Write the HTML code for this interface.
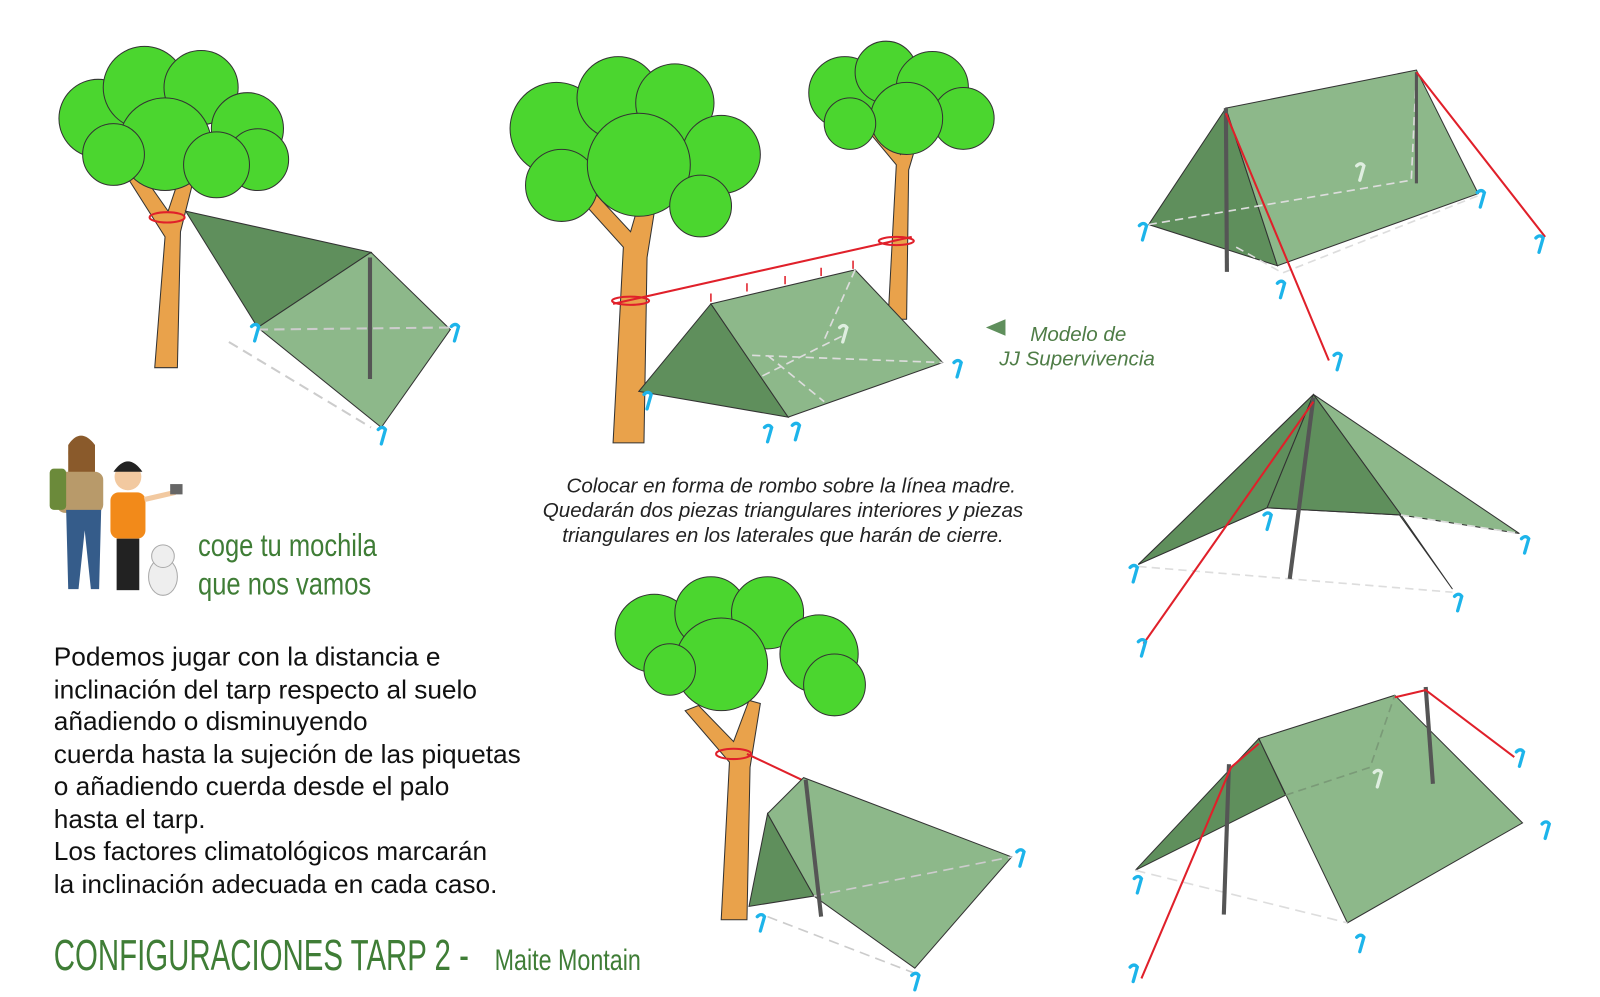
<!DOCTYPE html>
<html><head><meta charset="utf-8"><style>
html,body{margin:0;padding:0;background:#fff;}
svg{display:block;}
.n{font-family:"Liberation Sans",sans-serif;}
</style></head><body>
<svg width="1600" height="997" viewBox="0 0 1553 968" xmlns="http://www.w3.org/2000/svg">
<defs>
<g id="hk"><path d="M-3,-5 q4,-4 7,0 l-4,14" fill="none" stroke="#1db4ea" stroke-width="3.2" stroke-linecap="round"/></g>
<g id="hkw"><path d="M-3,-5 q4,-4 7,0 l-4,14" fill="none" stroke="#dfeee0" stroke-width="3.2" stroke-linecap="round"/></g>
</defs>
<rect width="1553" height="968" fill="#fff"/>

<g stroke="#333" stroke-width="1">
<path d="M150,357 L160,230 L122,170 L135,165 L163,205 L178,160 L190,165 L175,225 L172,357 Z" fill="#e9a24b"/>
<g fill="#4bd62f">
<circle cx="95" cy="115" r="38"/><circle cx="140" cy="85" r="40"/><circle cx="195" cy="85" r="36"/><circle cx="240" cy="125" r="35"/><circle cx="250" cy="155" r="30"/><circle cx="160" cy="140" r="45"/><circle cx="110" cy="150" r="30"/><circle cx="210" cy="160" r="32"/>
</g></g>
<ellipse cx="162" cy="211" rx="17" ry="5" fill="none" stroke="#e0202a" stroke-width="2"/>
<polygon points="180,205 360,245 250,318" fill="#5f8f5c" stroke="#333" stroke-width="1"/>
<polygon points="360,245 437,320 370,415 250,318" fill="#8db88a" stroke="#333" stroke-width="1"/>
<path d="M250,320 L437,318 M222,332 L360,415" stroke="#ccc" stroke-width="2" stroke-dasharray="10,6" fill="none"/>
<line x1="359" y1="250" x2="359" y2="368" stroke="#555" stroke-width="4"/>
<use href="#hk" x="247" y="322"/><use href="#hk" x="441" y="322"/><use href="#hk" x="370" y="422"/>

<g stroke="#333" stroke-width="1">
<path d="M595,430 L605,240 L560,190 L575,185 L612,225 L628,170 L640,175 L628,250 L625,430 Z" fill="#e9a24b"/>
<g fill="#4bd62f">
<circle cx="540" cy="125" r="45"/><circle cx="600" cy="95" r="40"/><circle cx="655" cy="100" r="38"/><circle cx="700" cy="150" r="38"/><circle cx="545" cy="180" r="35"/><circle cx="620" cy="160" r="50"/><circle cx="680" cy="200" r="30"/>
</g>
<path d="M862,310 L870,160 L845,130 L855,125 L874,150 L885,125 L893,128 L882,165 L880,310 Z" fill="#e9a24b"/>
<g fill="#4bd62f">
<circle cx="820" cy="90" r="35"/><circle cx="860" cy="70" r="30"/><circle cx="905" cy="85" r="35"/><circle cx="935" cy="115" r="30"/><circle cx="880" cy="115" r="35"/><circle cx="825" cy="120" r="25"/>
</g></g>
<path d="M595,295 L885,230" stroke="#e0202a" stroke-width="2" fill="none"/>
<ellipse cx="612" cy="292" rx="18" ry="4" fill="none" stroke="#e0202a" stroke-width="2"/>
<ellipse cx="870" cy="234" rx="17" ry="4" fill="none" stroke="#e0202a" stroke-width="2"/>
<polygon points="620,380 690,295 765,405" fill="#5f8f5c" stroke="#333" stroke-width="1"/>
<polygon points="690,295 830,262 915,352 765,405" fill="#8db88a" stroke="#333" stroke-width="1"/>
<path d="M730,345 L915,352 M740,365 L820,325 M745,345 L800,390 M830,262 L800,330" stroke="#ddd" stroke-width="1.6" stroke-dasharray="8,5" fill="none"/>
<use href="#hkw" x="818" y="323"/>
<use href="#hk" x="628" y="388"/><use href="#hk" x="745" y="420"/><use href="#hk" x="772" y="418"/><use href="#hk" x="929" y="357"/>
<path d="M690,285 v8 M725,275 v8 M762,268 v8 M797,260 v8 M828,253 v8" stroke="#e0202a" stroke-width="1.5"/>

<text x="768" y="478" text-anchor="middle" font-family="Liberation Sans,sans-serif" font-style="italic" font-size="20" fill="#222">Colocar en forma de rombo sobre la línea madre.</text>
<text x="760" y="502" text-anchor="middle" font-family="Liberation Sans,sans-serif" font-style="italic" font-size="20" fill="#222">Quedarán dos piezas triangulares interiores y piezas</text>
<text x="760" y="526" text-anchor="middle" font-family="Liberation Sans,sans-serif" font-style="italic" font-size="20" fill="#222">triangulares en los laterales que harán de cierre.</text>

<polygon points="957,318 976,310 976,326" fill="#5f8f5c"/>
<text x="1000" y="331" font-family="Liberation Sans,sans-serif" font-style="italic" font-size="20" fill="#4f7d47">Modelo de</text>
<text x="970" y="355" font-family="Liberation Sans,sans-serif" font-style="italic" font-size="20" fill="#4f7d47">JJ Supervivencia</text>

<polygon points="1115,218 1190,105 1240,258" fill="#5f8f5c" stroke="#333"/>
<polygon points="1190,105 1375,68 1435,188 1240,258" fill="#8db88a" stroke="#333"/>
<path d="M1115,218 L1370,175 L1375,70 M1200,240 L1245,265 L1435,190" stroke="#ddd" stroke-width="1.6" stroke-dasharray="8,5" fill="none"/>
<line x1="1190" y1="105" x2="1191" y2="264" stroke="#555" stroke-width="4"/>
<line x1="1375" y1="70" x2="1375" y2="178" stroke="#555" stroke-width="3"/>
<path d="M1190,110 L1290,350 M1375,70 L1500,230" stroke="#e0202a" stroke-width="2" fill="none"/>
<use href="#hk" x="1109" y="224"/><use href="#hk" x="1243" y="280"/><use href="#hk" x="1437" y="192"/><use href="#hk" x="1494" y="236"/><use href="#hk" x="1298" y="350"/><use href="#hkw" x="1320" y="166"/>

<polygon points="1105,548 1275,383 1410,572 1360,500 1230,493" fill="#8db88a" stroke="#333"/>
<polygon points="1105,548 1275,383 1230,493" fill="#5f8f5c" stroke="#333"/>
<polygon points="1275,383 1475,518 1360,500" fill="#8db88a" stroke="#333"/>
<polygon points="1275,383 1360,500 1230,493" fill="#5f8f5c" stroke="#333"/>
<path d="M1105,550 L1410,575 M1360,500 L1475,518" stroke="#ddd" stroke-width="1.6" stroke-dasharray="8,5" fill="none"/>
<line x1="1275" y1="386" x2="1252" y2="562" stroke="#555" stroke-width="4"/>
<path d="M1275,390 L1110,625" stroke="#e0202a" stroke-width="2"/>
<use href="#hk" x="1100" y="556"/><use href="#hk" x="1230" y="505"/><use href="#hk" x="1480" y="528"/><use href="#hk" x="1415" y="584"/><use href="#hk" x="1108" y="628"/>

<polygon points="1102,845 1222,717 1248,772" fill="#5f8f5c" stroke="#333"/>
<polygon points="1222,717 1354,675 1478,799 1308,896" fill="#8db88a" stroke="#333"/>
<path d="M1102,845 L1308,896" stroke="#ddd" stroke-width="1.6" stroke-dasharray="10,6" fill="none"/>
<path d="M1248,772 L1330,745 L1354,675" stroke="#7a9a77" stroke-width="1.6" stroke-dasharray="8,5" fill="none"/>
<line x1="1193" y1="742" x2="1188" y2="888" stroke="#555" stroke-width="4"/>
<line x1="1384" y1="667" x2="1391" y2="761" stroke="#555" stroke-width="4"/>
<path d="M1195,745 L1222,722 M1195,745 L1108,950 M1354,677 L1384,670 L1470,735" stroke="#e0202a" stroke-width="2" fill="none"/>
<use href="#hk" x="1104" y="858"/><use href="#hk" x="1500" y="805"/><use href="#hk" x="1320" y="915"/><use href="#hk" x="1475" y="735"/><use href="#hk" x="1100" y="944"/><use href="#hkw" x="1337" y="755"/>

<g stroke="#333" stroke-width="1">
<path d="M700,893 L708,740 L665,690 L678,685 L712,720 L727,680 L738,683 L728,745 L725,893 Z" fill="#e9a24b"/>
<g fill="#4bd62f">
<circle cx="635" cy="615" r="38"/><circle cx="690" cy="595" r="35"/><circle cx="745" cy="595" r="35"/><circle cx="795" cy="635" r="38"/><circle cx="810" cy="665" r="30"/><circle cx="700" cy="645" r="45"/><circle cx="650" cy="650" r="25"/>
</g></g>
<ellipse cx="712" cy="732" rx="17" ry="5" fill="none" stroke="#e0202a" stroke-width="2"/>
<path d="M725,732 L780,758" stroke="#e0202a" stroke-width="2"/>
<polygon points="727,880 745,790 790,870" fill="#5f8f5c" stroke="#333"/>
<polygon points="745,790 780,755 982,832 888,940 790,870" fill="#8db88a" stroke="#333"/>
<path d="M745,890 L888,945 M790,870 L982,832" stroke="#ccc" stroke-width="1.6" stroke-dasharray="10,6" fill="none"/>
<line x1="782" y1="757" x2="797" y2="890" stroke="#555" stroke-width="4"/>
<use href="#hk" x="738" y="895"/><use href="#hk" x="990" y="832"/><use href="#hk" x="888" y="952"/>

<g>
<circle cx="78" cy="440" r="12" fill="#f2c9a0"/><path d="M66,432 q12,-18 26,0 l0,28 q-14,5 -26,0z" fill="#8a5a2b"/>
<rect x="55" y="458" width="45" height="40" rx="8" fill="#b89a6a"/>
<rect x="48" y="455" width="16" height="40" rx="4" fill="#6b8a3a"/>
<path d="M64,495 L98,495 L96,572 L88,572 L82,515 L76,572 L66,572 Z" fill="#355c8a"/>
<circle cx="124" cy="463" r="13" fill="#f2c9a0"/><path d="M110,458 q14,-20 28,0z" fill="#222"/>
<rect x="107" y="478" width="34" height="45" rx="8" fill="#f28a1a"/>
<rect x="113" y="523" width="22" height="50" fill="#222"/>
<path d="M140,485 L170,478" stroke="#f2c9a0" stroke-width="5"/><rect x="165" y="470" width="12" height="10" fill="#666"/>
<ellipse cx="158" cy="560" rx="14" ry="18" fill="#eee" stroke="#aaa"/><circle cx="158" cy="540" r="11" fill="#eee" stroke="#aaa"/>
</g>
<text class="n" transform="translate(192,540) scale(0.8,1)" font-size="31" fill="#3f7d36">coge tu mochila</text>
<text class="n" transform="translate(192,577) scale(0.8,1)" font-size="31" fill="#3f7d36">que nos vamos</text>

<g font-family="Liberation Sans,sans-serif" font-size="25.5" fill="#111">
<text x="52" y="646">Podemos jugar con la distancia e</text>
<text x="52" y="678">inclinación del tarp respecto al suelo</text>
<text x="52" y="709">añadiendo o disminuyendo</text>
<text x="52" y="741">cuerda hasta la sujeción de las piquetas</text>
<text x="52" y="772">o añadiendo cuerda desde el palo</text>
<text x="52" y="804">hasta el tarp.</text>
<text x="52" y="835">Los factores climatológicos marcarán</text>
<text x="52" y="867">la inclinación adecuada en cada caso.</text>
</g>
<text class="n" transform="translate(52,942) scale(0.68,1)" font-size="42" fill="#3f7d36">CONFIGURACIONES TARP 2 -</text>
<text class="n" transform="translate(480,942) scale(0.78,1)" font-size="29" fill="#3f7d36">Maite Montain</text>
</svg>
</body></html>
